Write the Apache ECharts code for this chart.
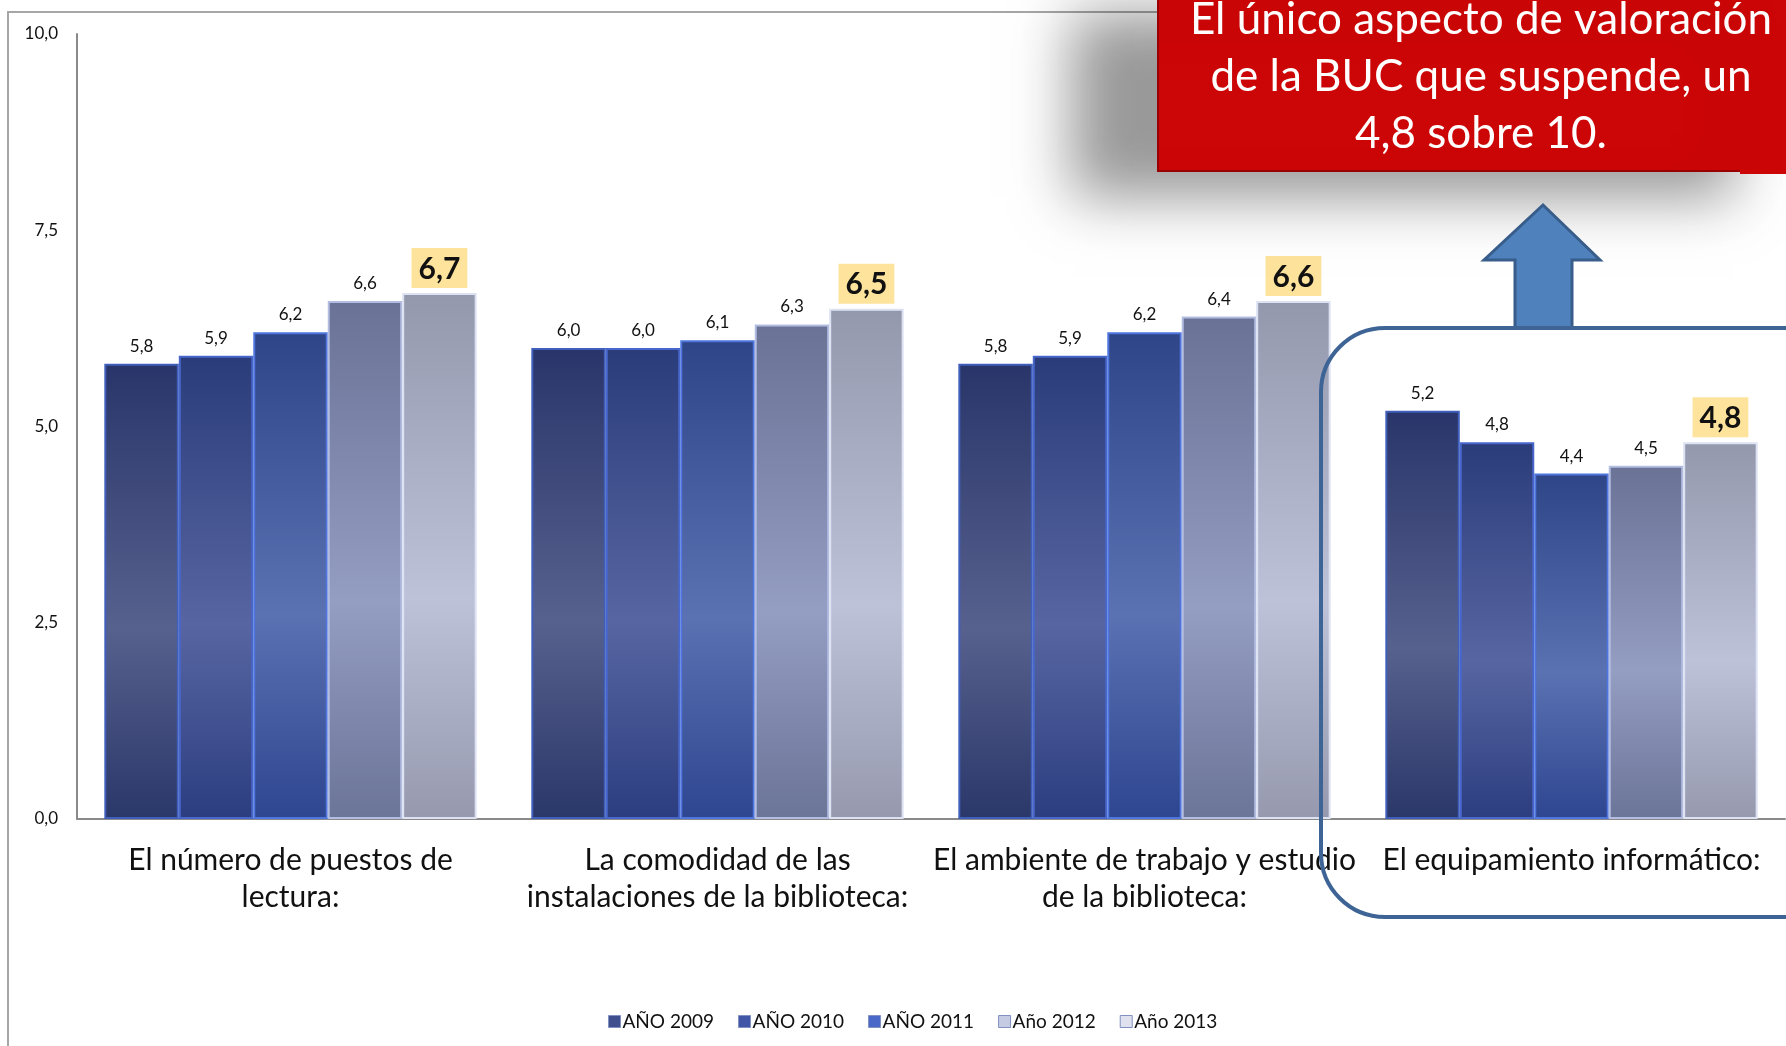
<!DOCTYPE html>
<html>
<head>
<meta charset="utf-8">
<script src="https://cdn.jsdelivr.net/npm/echarts@6/dist/echarts.min.js"></script>
<style>
html, body { margin: 0; padding: 0; background: #fff; }
#main { width: 1786px; height: 1046px; }
</style>
</head>
<body>
<div id="main"></div>
<script>
var categorias = [
    'El número de puestos de\nlectura:',
    'La comodidad de las\ninstalaciones de la biblioteca:',
    'El ambiente de trabajo y estudio\nde la biblioteca:',
    'El equipamiento informático:'
];
var anios = ['AÑO 2009', 'AÑO 2010', 'AÑO 2011', 'Año 2012', 'Año 2013'];
var v2009 = [5.8, 6.0, 5.8, 5.2];
var v2010 = [5.9, 6.0, 5.9, 4.8];
var v2011 = [6.2, 6.1, 6.2, 4.4];
var v2012 = [6.6, 6.3, 6.4, 4.5];
var v2013 = [6.7, 6.5, 6.6, 4.8];
var valores = [v2009, v2010, v2011, v2012, v2013];

var textoAviso = ['El único aspecto de valoración', 'de la BUC que suspende, un', '4,8 sobre 10.'];

// top, middle, bottom, border, legend
var colores = [
    ['#29356a', '#57618e', '#2a3769', '#3f5fba', '#3f4f8e'],
    ['#2b3c7b', '#5766a2', '#2c3d80', '#4867cc', '#4256a8'],
    ['#2e4588', '#5a71b2', '#2e4690', '#4f76de', '#4a68c8'],
    ['#6a7396', '#949dc2', '#6b7598', '#b3bde2', '#c5cbe3'],
    ['#9498ad', '#bdc2d9', '#9699ae', '#dde2f3', '#dfe2ee']
];

function coma(v) {
    return v.toFixed(1).replace('.', ',');
}

var fuente = 'Lato, "Noto Sans", sans-serif';
var myChart = echarts.init(document.getElementById('main'));

var series = anios.map(function (nombre, i) {
    var c = colores[i];
    var ultimo = i === anios.length - 1;
    return {
        name: nombre,
        type: 'bar',
        data: valores[i],
        barGap: '0%',
        barCategoryGap: '12.8%',
        itemStyle: {
            color: new echarts.graphic.LinearGradient(0, 0, 0, 1, [
                { offset: 0, color: c[0] },
                { offset: 0.58, color: c[1] },
                { offset: 1, color: c[2] }
            ]),
            borderColor: c[3],
            borderWidth: 2
        },
        label: ultimo ? {
            show: true,
            position: 'top',
            distance: 5,
            formatter: function (p) { return coma(p.value); },
            fontFamily: fuente,
            fontSize: 30,
            fontWeight: 'bold',
            color: '#111',
            backgroundColor: '#fee39c',
            padding: [6, 7, 4, 7]
        } : {
            show: true,
            position: 'top',
            distance: 9,
            formatter: function (p) { return coma(p.value); },
            fontFamily: fuente,
            fontSize: 17,
            color: '#111'
        }
    };
});

var option = {
    backgroundColor: '#fff',
    animation: false,
    grid: { left: 77, right: 1, top: 34, bottom: 227 },
    legend: {
        data: anios.map(function (n, i) {
            return { name: n, itemStyle: { color: colores[i][4], borderColor: '#8090c0', borderWidth: 1 } };
        }),
        left: 603,
        top: 1007,
        icon: 'rect',
        itemWidth: 12,
        itemHeight: 12,
        itemGap: 24,
        textStyle: { fontFamily: fuente, fontSize: 19, color: '#111', padding: [0, 0, 0, -3] }
    },
    xAxis: {
        type: 'category',
        data: categorias,
        axisLine: { lineStyle: { color: '#8a8a8a', width: 2 } },
        axisTick: { show: false },
        axisLabel: {
            interval: 0,
            margin: 23,
            fontFamily: fuente,
            fontSize: 30,
            lineHeight: 37,
            color: '#111'
        }
    },
    yAxis: {
        type: 'value',
        min: 0,
        max: 10,
        interval: 2.5,
        axisLine: { show: true, lineStyle: { color: '#8a8a8a', width: 2 } },
        axisTick: { show: false },
        splitLine: { show: false },
        axisLabel: {
            margin: 19,
            fontFamily: fuente,
            fontSize: 17,
            color: '#111',
            formatter: function (v) { return coma(v); }
        }
    },
    series: series,
    graphic: [
        {
            type: 'polyline',
            z: 50,
            shape: { points: [[8, 1046], [8, 12], [1250, 12]] },
            style: { stroke: '#a6a6a6', lineWidth: 2, fill: null }
        },
        {
            type: 'rect',
            z: 100,
            shape: { x: 1158, y: -10, width: 660, height: 181 },
            style: {
                fill: '#cc0606',
                stroke: '#990000',
                lineWidth: 2,
                shadowBlur: 55,
                shadowColor: 'rgba(0,0,0,0.4)',
                shadowOffsetX: -85,
                shadowOffsetY: 25
            }
        },
        {
            type: 'rect',
            z: 101,
            shape: { x: 1740, y: 169, width: 46, height: 5 },
            style: { fill: '#cc0606' }
        }
    ].concat(textoAviso.map(function (t, i) {
        return {
            type: 'text',
            z: 102,
            style: {
                text: t,
                x: 1481,
                y: 20 + i * 57,
                fill: '#fff',
                font: '44px ' + fuente,
                textAlign: 'center',
                textVerticalAlign: 'middle'
            }
        };
    })).concat([
        {
            type: 'polygon',
            z: 100,
            shape: {
                points: [[1543, 205], [1600, 260], [1572, 260], [1572, 328],
                         [1515, 328], [1515, 260], [1484, 260]]
            },
            style: { fill: '#4f81bd', stroke: '#385d8a', lineWidth: 3 }
        },
        {
            type: 'rect',
            z: 101,
            shape: { x: 1321, y: 328, width: 540, height: 589, r: 64 },
            style: { fill: null, stroke: '#3e6496', lineWidth: 4 }
        }
    ])
};
myChart.setOption(option);
</script>
</body>
</html>
